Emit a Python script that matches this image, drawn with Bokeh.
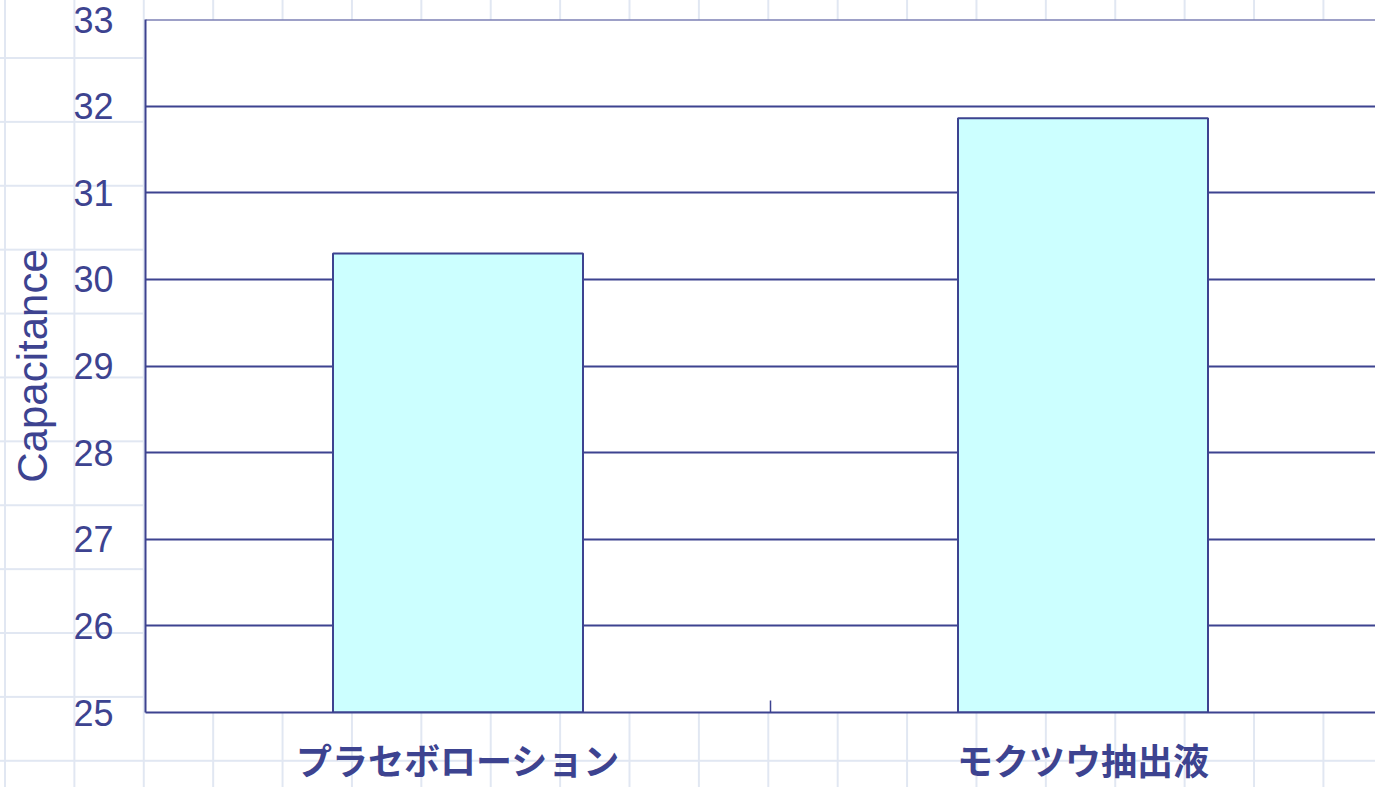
from bokeh.plotting import figure
from bokeh.models import Range1d, FixedTicker, ColumnDataSource, Span
from bokeh.embed import file_html
from bokeh.resources import INLINE

# ---- data ----
categories = ["プラセボローション", "モクツウ抽出液"]
capacitance = [30.3, 31.86]
y_ticks = [25, 26, 27, 28, 29, 30, 31, 32, 33]
y_label = "Capacitance"

# ---- styling ----
BLUE = "#3d4390"
positions = [i + 0.5 for i in range(len(categories))]

src = ColumnDataSource(dict(x=positions, top=capacitance, cat=categories))

p = figure(width=1375, height=787, output_backend="svg", toolbar_location=None,
           x_range=Range1d(0, 1.968), y_range=Range1d(y_ticks[0], y_ticks[-1]),
           min_border_left=145, min_border_top=19, min_border_bottom=75, min_border_right=0)

p.styles = {
    "background-color": "white",
    "background-image": "linear-gradient(to right, #e1e7f2 2px, transparent 2px), "
                        "linear-gradient(to bottom, #e1e7f2 2px, transparent 2px)",
    "background-size": "69.4px 63.9px",
    "background-position": "4px 57px",
}
p.border_fill_color = None
p.background_fill_color = "white"
p.outline_line_color = None

p.vbar(x="x", top="top", bottom=y_ticks[0], width=0.4, source=src,
       fill_color="#ccffff", line_color=BLUE, line_width=2)

# top gridline (range end)
p.add_layout(Span(location=y_ticks[-1], dimension="width", line_color=BLUE, line_width=2))

# y axis
p.yaxis.ticker = FixedTicker(ticks=y_ticks)
p.yaxis.axis_label = y_label
p.yaxis.axis_label_text_font = "Liberation Sans"
p.yaxis.axis_label_text_font_size = "42px"
p.yaxis.axis_label_text_font_style = "normal"
p.yaxis.axis_label_text_color = BLUE
p.yaxis.axis_label_standoff = 14
p.yaxis.major_label_text_font = "Liberation Sans"
p.yaxis.major_label_text_font_size = "36px"
p.yaxis.major_label_text_color = BLUE
p.yaxis.major_tick_out = 0
p.yaxis.major_tick_in = 0
p.yaxis.minor_tick_out = 0
p.yaxis.major_label_standoff = 32
p.yaxis.axis_line_color = BLUE
p.yaxis.axis_line_width = 2

# x axis
p.xaxis.ticker = FixedTicker(ticks=positions, minor_ticks=[1.0])
p.xaxis.major_label_overrides = {pos: c for pos, c in zip(positions, categories)}
p.xaxis.major_label_text_font = "Noto Sans CJK JP"
p.xaxis.major_label_text_font_style = "bold"
p.xaxis.major_label_text_font_size = "36px"
p.xaxis.major_label_text_line_height = 0.9
p.xaxis.major_label_text_color = BLUE
p.xaxis.major_label_standoff = 20
p.xaxis.major_tick_out = 0
p.xaxis.major_tick_in = 0
p.xaxis.minor_tick_in = 12
p.xaxis.minor_tick_out = 0
p.xaxis.minor_tick_line_color = BLUE
p.xaxis.minor_tick_line_width = 1.5
p.xaxis.axis_line_color = BLUE
p.xaxis.axis_line_width = 2

p.xgrid.grid_line_color = None
p.ygrid.grid_line_color = BLUE
p.ygrid.grid_line_width = 2
p.ygrid.grid_line_alpha = 1

open("out.html", "w").write(file_html(p, INLINE))
